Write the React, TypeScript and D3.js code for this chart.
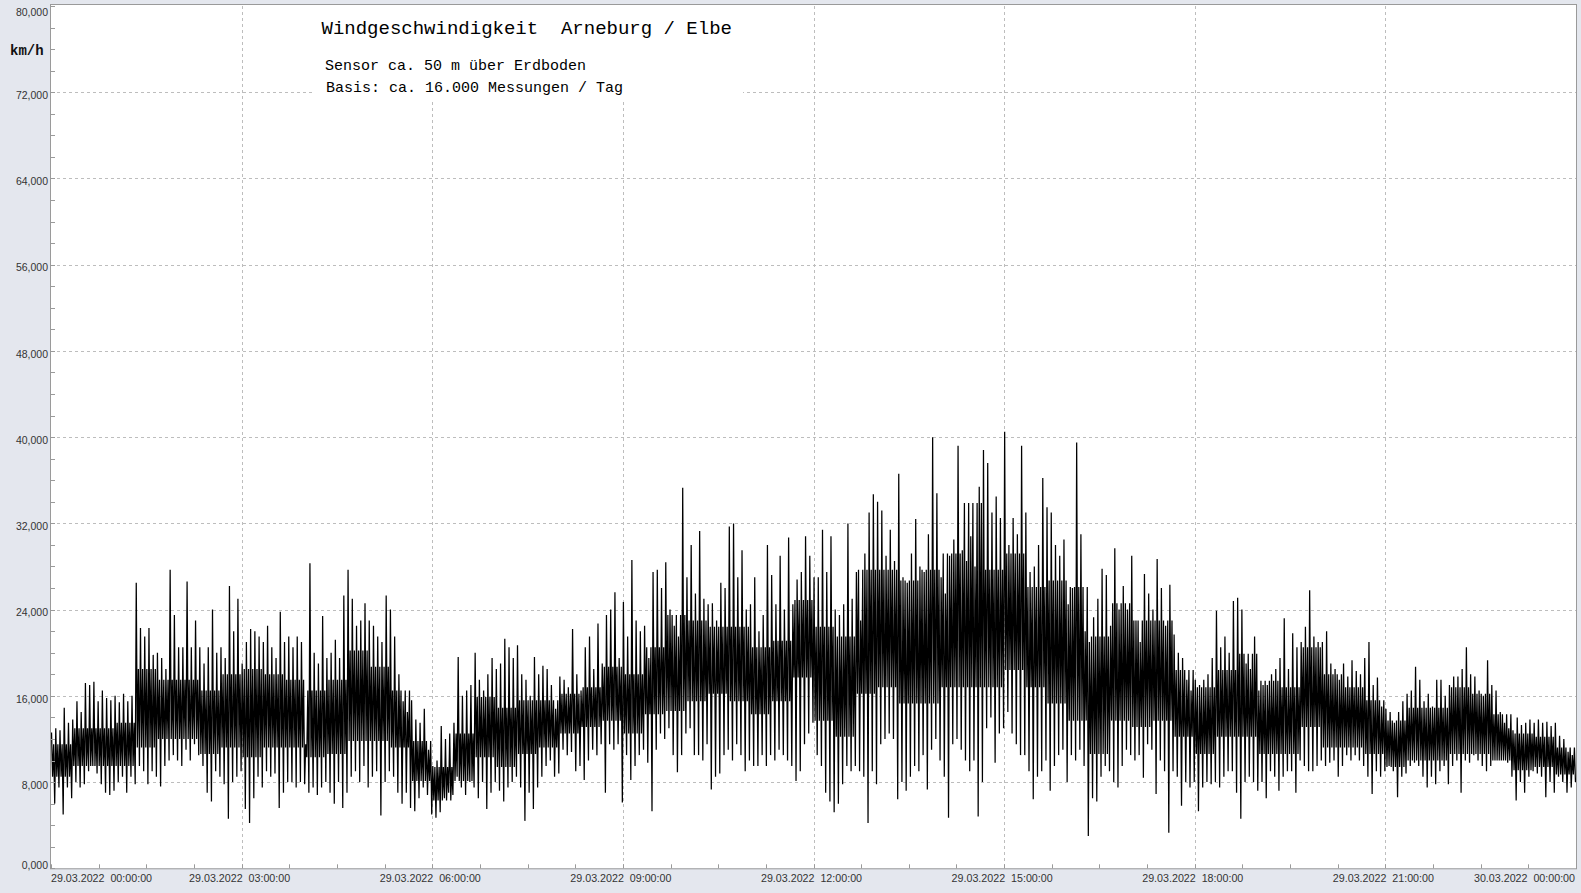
import React from 'react';
import * as d3 from 'd3';

const title = 'Windgeschwindigkeit  Arneburg / Elbe';
const subtitle1 = 'Sensor ca. 50 m über Erdboden';
const subtitle2 = 'Basis: ca. 16.000 Messungen / Tag';
const unitLabel = 'km/h';

const yTickValues = [0, 8, 16, 24, 32, 40, 48, 56, 64, 72, 80];
const xTickLabels = [
  '29.03.2022  00:00:00',
  '29.03.2022  03:00:00',
  '29.03.2022  06:00:00',
  '29.03.2022  09:00:00',
  '29.03.2022  12:00:00',
  '29.03.2022  15:00:00',
  '29.03.2022  18:00:00',
  '29.03.2022  21:00:00',
  '30.03.2022  00:00:00',
];

// 4-minute slots over the day: highest and lowest reading per slot (km/h)
const slotMinutes = 4;
const hi = [
  12.6, 13.0, 12.8, 14.9, 13.5, 13.8, 15.5, 14.5, 17.2, 17.0,
  17.3, 15.5, 16.5, 15.8, 15.6, 16.0, 15.4, 16.2, 15.5, 16.0,
  26.5, 22.3, 21.5, 22.3, 19.8, 20.0, 19.5, 18.5, 27.7, 23.5,
  20.5, 20.5, 26.6, 20.5, 23.0, 20.5, 19.0, 20.5, 24.0, 20.0,
  20.5, 19.5, 26.2, 22.0, 25.0, 19.0, 21.0, 22.2, 22.0, 21.5,
  21.0, 22.5, 20.5, 19.5, 23.8, 21.0, 21.5, 20.5, 21.5, 21.0,
  11.5, 28.3, 20.0, 19.0, 23.4, 19.5, 20.0, 21.2, 19.5, 25.3,
  27.7, 25.0, 22.5, 23.0, 24.6, 23.0, 22.5, 21.5, 21.0, 25.3,
  24.0, 21.5, 18.0, 15.5, 14.5, 15.6, 13.8, 13.5, 14.8, 11.0,
  9.5, 10.0, 13.2, 12.0, 12.5, 13.5, 19.6, 16.0, 16.5, 17.0,
  20.0, 17.5, 16.5, 18.0, 19.5, 18.5, 19.0, 21.3, 20.5, 19.5,
  20.7, 18.0, 17.5, 16.0, 19.6, 18.0, 18.8, 18.5, 17.0, 14.8,
  17.8, 17.5, 16.8, 22.2, 18.0, 16.5, 20.5, 21.5, 18.5, 22.7,
  19.0, 23.5, 24.0, 25.6, 19.5, 24.7, 21.5, 28.6, 23.0, 22.0,
  22.5, 19.5, 27.5, 27.7, 26.0, 28.4, 24.0, 22.5, 21.5, 35.3,
  27.0, 30.0, 25.5, 31.3, 25.0, 24.5, 24.6, 23.0, 26.5, 26.0,
  31.7, 32.0, 27.0, 29.5, 24.0, 24.5, 27.0, 22.0, 23.5, 30.0,
  27.2, 24.5, 29.0, 24.0, 30.7, 24.5, 26.8, 27.5, 30.8, 29.0,
  27.0, 27.0, 31.4, 27.5, 30.8, 24.0, 23.5, 24.5, 32.0, 25.0,
  27.5, 23.0, 29.2, 33.0, 34.7, 34.0, 33.2, 29.0, 31.4, 28.5,
  36.6, 27.0, 26.5, 29.2, 32.4, 28.0, 27.5, 31.0, 40.0, 34.8,
  27.0, 25.5, 29.0, 30.5, 39.2, 29.5, 28.5, 30.8, 28.0, 35.4,
  38.8, 37.6, 33.0, 34.5, 32.5, 40.5, 30.0, 32.5, 31.0, 39.2,
  33.0, 27.5, 28.0, 30.0, 36.2, 33.5, 33.0, 30.0, 29.0, 30.5,
  24.5, 26.0, 39.5, 31.0, 22.0, 21.0, 23.3, 25.0, 27.8, 27.2,
  22.5, 29.7, 24.0, 26.2, 24.0, 29.0, 23.0, 21.0, 27.3, 25.5,
  24.0, 28.7, 26.0, 22.5, 26.3, 21.7, 20.0, 19.5, 17.5, 16.5,
  17.5, 17.0, 17.5, 18.0, 19.5, 23.9, 20.5, 21.5, 20.0, 24.8,
  25.1, 24.0, 19.0, 18.5, 21.5, 16.5, 17.0, 17.0, 18.0, 18.5,
  19.5, 23.2, 18.5, 21.8, 20.5, 21.0, 22.4, 25.8, 21.5, 21.0,
  21.0, 22.0, 19.0, 18.5, 17.5, 19.0, 17.8, 19.3, 18.3, 18.0,
  19.5, 21.0, 17.0, 17.7, 15.0, 14.8, 14.5, 13.5, 14.5, 15.5,
  16.2, 16.5, 18.7, 17.5, 15.5, 16.2, 15.0, 17.5, 17.5, 16.0,
  17.0, 17.8, 17.8, 18.5, 20.5, 18.0, 17.8, 16.5, 16.0, 19.3,
  17.0, 16.5, 14.5, 13.5, 13.0, 12.8, 14.0, 13.3, 13.5, 13.8,
  13.5, 13.8, 13.5, 13.6, 13.2, 13.5, 12.3, 12.0, 10.8, 10.5,
];
const lo = [
  6.0, 7.5, 5.0, 7.5, 6.5, 8.0, 7.5, 7.8, 9.0, 9.5,
  8.8, 7.8, 7.0, 6.8, 7.2, 8.0, 8.5, 7.0, 8.5, 7.8,
  9.5, 9.0, 7.8, 9.0, 8.5, 7.6, 9.5, 10.0, 10.5, 10.0,
  9.5, 11.0, 10.0, 11.5, 10.5, 9.5, 7.0, 6.2, 9.0, 8.5,
  7.8, 4.6, 8.0, 8.5, 9.0, 5.5, 4.2, 6.5, 8.5, 7.5,
  9.0, 8.5, 8.8, 5.6, 7.0, 8.0, 8.0, 7.5, 8.0, 7.8,
  7.0, 7.5, 6.8, 7.5, 8.0, 7.0, 6.0, 8.0, 5.6, 7.0,
  8.5, 9.0, 8.0, 9.5, 7.5, 8.5, 9.0, 4.9, 8.0, 9.0,
  8.5, 7.0, 6.0, 7.0, 5.6, 5.3, 6.5, 7.5, 6.8, 5.0,
  4.7, 5.2, 6.5, 7.0, 6.8, 8.5, 7.5, 6.8, 8.0, 7.5,
  6.5, 8.0, 5.5, 7.0, 8.0, 7.2, 6.2, 7.5, 8.0, 8.5,
  7.5, 4.4, 7.0, 5.5, 7.5, 8.5, 9.5, 10.0, 8.5, 8.8,
  11.0, 10.5, 10.8, 9.0, 9.5, 8.2, 10.0, 11.0, 10.5, 11.5,
  7.0, 11.5, 11.0, 11.5, 6.1, 10.5, 8.2, 9.5, 10.5, 11.0,
  9.8, 5.3, 11.0, 12.5, 12.0, 13.0, 10.5, 8.9, 10.5, 12.5,
  13.0, 10.5, 10.5, 10.0, 11.5, 7.3, 8.5, 8.8, 10.5, 11.0,
  10.0, 11.5, 10.5, 9.0, 10.0, 9.5, 9.5, 10.5, 9.5, 10.5,
  10.0, 11.0, 10.5, 10.0, 9.5, 8.1, 9.0, 11.5, 12.5, 13.5,
  10.5, 9.5, 7.0, 6.2, 5.2, 6.0, 7.8, 9.5, 9.0, 9.5,
  9.0, 8.5, 4.2, 9.0, 7.8, 11.5, 12.0, 12.5, 12.0, 6.4,
  8.0, 7.2, 8.5, 9.5, 9.0, 10.5, 7.3, 11.0, 12.0, 10.0,
  8.5, 4.7, 11.5, 12.0, 11.0, 10.0, 9.0, 10.0, 4.8, 8.0,
  13.0, 14.0, 9.8, 12.5, 13.0, 14.5, 12.5, 11.5, 10.5, 10.5,
  9.0, 6.4, 8.5, 9.0, 10.0, 7.2, 9.5, 10.5, 11.0, 8.0,
  10.5, 10.0, 11.0, 9.5, 3.0, 6.5, 6.2, 8.5, 9.5, 9.0,
  8.0, 7.5, 9.5, 11.0, 10.5, 10.0, 10.5, 8.4, 11.5, 11.0,
  6.9, 10.0, 9.0, 3.3, 9.0, 8.5, 5.8, 8.0, 7.5, 8.0,
  5.3, 7.5, 8.0, 7.8, 8.0, 7.5, 8.5, 9.0, 9.0, 7.0,
  4.6, 8.0, 8.5, 8.0, 7.2, 8.0, 6.5, 9.0, 8.5, 7.2,
  8.5, 9.0, 9.0, 7.0, 10.0, 9.5, 9.0, 9.0, 9.5, 10.0,
  9.5, 9.8, 10.0, 8.5, 9.5, 10.5, 10.0, 10.5, 10.0, 9.5,
  8.5, 6.9, 9.0, 8.5, 9.0, 9.5, 9.0, 6.6, 8.5, 8.8,
  9.5, 9.8, 9.5, 8.5, 7.5, 8.5, 7.8, 9.0, 9.5, 7.8,
  9.5, 10.0, 7.0, 10.0, 9.8, 10.5, 10.0, 9.5, 9.0, 9.5,
  10.0, 10.0, 10.0, 9.8, 8.5, 6.3, 8.0, 7.0, 8.5, 9.0,
  8.8, 8.5, 6.6, 8.0, 7.0, 8.5, 8.0, 7.0, 7.5, 8.0,
];

// 20-minute bins: upper and lower edge of the dense band of readings (km/h)
const coreMinutes = 20;
const coreHi = [
  11.5, 13.0, 13.0, 13.5, 18.5, 17.5, 17.5, 16.5, 18.0, 18.5, 18.0, 17.5,
  16.5, 17.5, 20.2, 18.7, 16.5, 11.8, 9.4, 12.5, 15.9, 14.9, 15.6, 15.6,
  16.2, 16.8, 18.7, 18.0, 20.5, 23.5, 23.0, 22.4, 22.4, 20.5, 21.1, 24.9,
  22.4, 21.5, 27.7, 27.7, 26.7, 27.7, 29.2, 33.9, 27.7, 29.2, 26.1, 26.7,
  26.1, 21.5, 24.6, 23.0, 23.0, 18.4, 16.8, 18.4, 19.9, 17.4, 16.8, 20.5,
  18.0, 16.8, 15.6, 13.7, 14.9, 14.9, 16.8, 16.2, 14.3, 12.5, 12.2, 11.2,
];
const coreLo = [
  8.5, 9.5, 9.5, 9.5, 11.2, 12.0, 12.0, 10.6, 11.2, 10.3, 11.2, 11.2,
  10.3, 10.6, 11.8, 11.8, 11.2, 8.1, 6.3, 8.1, 10.3, 9.4, 10.6, 11.2,
  12.5, 13.1, 13.7, 12.5, 14.3, 14.6, 15.5, 16.2, 15.5, 14.3, 15.5, 17.7,
  13.7, 12.2, 16.2, 16.8, 15.3, 15.3, 16.8, 16.8, 16.8, 18.4, 16.8, 15.3,
  13.7, 10.6, 13.7, 13.1, 13.7, 12.2, 10.6, 12.2, 12.2, 10.6, 10.6, 13.1,
  11.2, 11.2, 10.6, 9.4, 10.0, 10.0, 10.6, 10.6, 10.0, 9.1, 9.4, 8.7,
];

const W = 1581;
const H = 893;

const de = d3.formatLocale({ decimal: ',', thousands: '.', grouping: [3], currency: ['', '€'] });
const fmt = de.format('.3f');

export default function App() {
  const x0 = 51;
  const x1 = 1576;
  const yTop = 6;
  const yBot = 868.3;
  const start = new Date(2022, 2, 29, 0, 0, 0);
  const end = new Date(2022, 2, 30, 0, 0, 0);
  const x = d3.scaleTime().domain([start, end]).range([x0, x1]);
  const y = d3.scaleLinear().domain([0, 80]).range([yBot, yTop]);

  const perCore = coreMinutes / slotMinutes;
  const pts: [Date, number][] = [];
  hi.forEach((h, i) => {
    const t = start.getTime() + i * slotMinutes * 60000;
    const b = Math.floor(i / perCore);
    pts.push([new Date(t + 30000), h]);
    pts.push([new Date(t + 90000), coreLo[b]]);
    pts.push([new Date(t + 150000), coreHi[b]]);
    pts.push([new Date(t + 210000), lo[i]]);
  });
  const line = d3.line<[Date, number]>().x(d => x(d[0])).y(d => y(d[1]));

  const majorTicks = d3.range(0, 24 * 60 + 1, 180).map(m => new Date(start.getTime() + m * 60000));
  const minorTicks = d3.range(0, 24 * 60 + 1, 45).map(m => new Date(start.getTime() + m * 60000));
  const yMinor = d3.range(0, 80.01, 2);

  const gridColor = '#bdbdbd';
  const axisColor = '#9a9a9a';
  const labelColor = '#333';

  return (
    <div style={{ position: 'absolute', left: 0, top: 0 }}>
      <svg width={W} height={H} style={{ display: 'block' }}>
        <defs>
          <clipPath id="plotClip">
            <rect x={x0} y={yTop} width={x1 - x0} height={yBot - yTop} />
          </clipPath>
        </defs>
        <rect x={0} y={0} width={W} height={H} fill="#e4e7ee" />
        <rect x={x0} y={yTop - 1} width={x1 - x0} height={yBot - yTop + 1} fill="#fff" />
        {yTickValues.filter(v => v > 0 && v < 80).map(v => (
          <line key={'gy' + v} x1={x0} x2={x1} y1={Math.round(y(v)) + 0.5} y2={Math.round(y(v)) + 0.5}
            stroke={gridColor} strokeDasharray="3,3" strokeWidth={1} />
        ))}
        {majorTicks.slice(1, -1).map((t, i) => (
          <line key={'gx' + i} x1={Math.round(x(t)) + 0.5} x2={Math.round(x(t)) + 0.5} y1={yTop} y2={yBot}
            stroke={gridColor} strokeDasharray="3,3" strokeWidth={1} />
        ))}
        <rect x={313} y={yTop} width={430} height={95} fill="#fff" />
        <text x={321.5} y={34} fontFamily="'Liberation Mono', 'Courier New', monospace" fontSize={19} fill="#000" style={{ whiteSpace: 'pre' }}>{title}</text>
        <text x={325} y={70} fontFamily="'Liberation Mono', 'Courier New', monospace" fontSize={15} fill="#000" style={{ whiteSpace: 'pre' }}>{subtitle1}</text>
        <text x={326} y={92} fontFamily="'Liberation Mono', 'Courier New', monospace" fontSize={15} fill="#000" style={{ whiteSpace: 'pre' }}>{subtitle2}</text>

        <g clipPath="url(#plotClip)">
          <path d={line(pts) || ''} fill="none" stroke="#000" strokeWidth={1.25} strokeLinejoin="miter" />
        </g>

        <rect x={x0 - 0.5} y={yTop - 1.5} width={x1 - x0 + 1} height={yBot - yTop + 2} fill="none" stroke={axisColor} strokeWidth={1} />
        {yMinor.map(v => (
          <line key={'ym' + v} x1={x0} x2={x0 + 4} y1={Math.round(y(v)) + 0.5} y2={Math.round(y(v)) + 0.5} stroke={axisColor} />
        ))}
        {minorTicks.map((t, i) => (
          <line key={'xm' + i} x1={Math.round(x(t)) + 0.5} x2={Math.round(x(t)) + 0.5} y1={yBot} y2={yBot - 4} stroke={axisColor} />
        ))}
        {yTickValues.map(v => {
          let yy = y(v) + 4;
          if (v === 0) yy = y(v) - 2;
          if (v === 80) yy = y(v) + 7;
          return (
            <text key={'yl' + v} x={48} y={yy} textAnchor="end" dominantBaseline="middle"
              fontFamily="'Liberation Sans', Arial, sans-serif" fontSize={10.5} fill={labelColor}>{fmt(v)}</text>
          );
        })}
        <text x={10} y={55} fontFamily="'Liberation Mono', 'Courier New', monospace" fontWeight="bold" fontSize={14} fill="#111">{unitLabel}</text>
        {majorTicks.map((t, i) => {
          const first = i === 0;
          const last = i === majorTicks.length - 1;
          return (
            <text key={'xl' + i} x={first ? x0 : last ? x1 - 1 : x(t) - 2} y={882}
              textAnchor={first ? 'start' : last ? 'end' : 'middle'}
              fontFamily="'Liberation Sans', Arial, sans-serif" fontSize={10.7} fill={labelColor}
              style={{ whiteSpace: 'pre' }}>{xTickLabels[i]}</text>
          );
        })}
      </svg>
    </div>
  );
}
